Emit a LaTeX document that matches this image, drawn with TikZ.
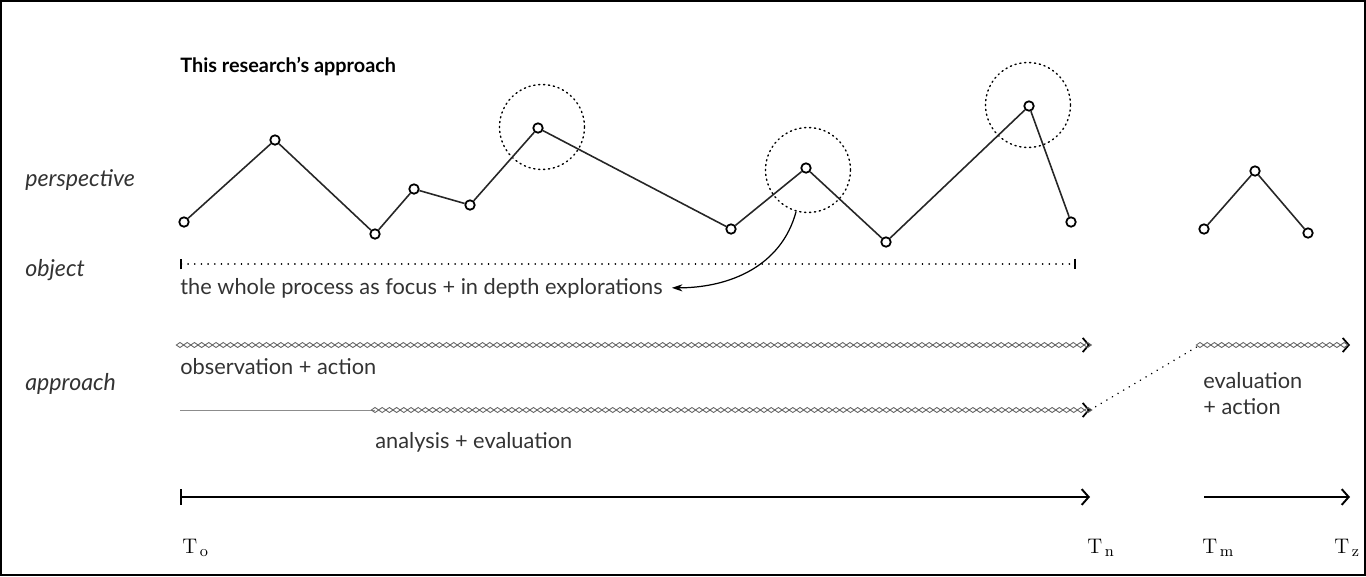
\documentclass[tikz,border=0pt]{standalone}
\usepackage[no-math]{fontspec}
\setmainfont{Lato}
\usetikzlibrary{arrows.meta,decorations.markings}

\begin{document}
\begin{tikzpicture}[x=0.02cm,y=-0.02cm]
    % Define styles
    \tikzstyle{vertex} = [circle, draw=black, fill=white, line width=1pt, inner sep=0pt, minimum size=0.19cm]
    \tikzstyle{focus} = [circle, draw=black, dash pattern=on 0.7pt off 2.1pt, line cap=round, line width=0.8pt, minimum size=1.7cm, inner sep=0pt]
    \tikzstyle{rowlabel} = [anchor=base west, inner sep=0pt, font=\itshape\fontsize{13.2}{15}\selectfont, text=black!80]
    \tikzstyle{caption} = [anchor=base west, inner sep=0pt, font=\fontsize{12.4}{14}\selectfont, text=black!80]
    \tikzstyle{timelabel} = [anchor=base west, inner sep=0pt, font=\fontsize{13}{15}\selectfont]
    \tikzstyle{edge} = [line width=0.9pt, black!85]
    \tikzstyle{arrow} = [line width=0.7pt, -{Stealth[length=6pt,width=4pt]}]
    \tikzstyle{timeline} = [line width=1.1pt, -{Straight Barb[length=4pt,width=9pt]}]
    \tikzstyle{chain} = [white, line width=0.2pt, -{Straight Barb[black, line width=1pt, length=3.5pt, width=8pt]},
        postaction={decorate, decoration={markings, mark=between positions 0 and 1 step 4.1pt with
        {\draw[black!60, line width=0.5pt] (-3.7,0) -- (0,2.5) -- (3.7,0) -- (0,-2.5) -- cycle;}}}]
    \tikzstyle{dots} = [line width=0.9pt, dash pattern=on 0.1pt off 3.6pt, line cap=round]

    % Frame
    \useasboundingbox (0,0) rectangle (1366,576);
    \draw[line width=1.3pt] (1,1) rectangle (1365,575);

    % Labels
    \node (title) [anchor=base west, inner sep=0pt, font=\bfseries\fontsize{11.3}{13}\selectfont] at (180,72) {This research’s approach};
    \node (lper) [rowlabel] at (25,186) {perspective};
    \node (lobj) [rowlabel] at (25,276) {object};
    \node (lapp) [rowlabel] at (25,390) {approach};

    % Perspective points
    \node (p1) [vertex] at (184,222) {};
    \node (p2) [vertex] at (275,140) {};
    \node (p3) [vertex] at (375,234) {};
    \node (p4) [vertex] at (414,189) {};
    \node (p5) [vertex] at (470,205) {};
    \node (p6) [vertex] at (538,128) {};
    \node (p7) [vertex] at (731,229) {};
    \node (p8) [vertex] at (806,168) {};
    \node (p9) [vertex] at (886,242) {};
    \node (p10) [vertex] at (1029,106) {};
    \node (p11) [vertex] at (1071,222) {};
    \node (q1) [vertex] at (1204,229) {};
    \node (q2) [vertex] at (1255,171) {};
    \node (q3) [vertex] at (1308,233) {};

    % Focus circles
    \node (c1) [focus] at (542,127) {};
    \node (c2) [focus] at (808,170) {};
    \node (c3) [focus] at (1028,105) {};

    % Draw edges
    \draw [edge] (p1) -- (p2) -- (p3) -- (p4) -- (p5) -- (p6) -- (p7) -- (p8) -- (p9) -- (p10) -- (p11);
    \draw [edge] (q1) -- (q2) -- (q3);

    % Object
    \coordinate (o1) at (180,264);
    \coordinate (o2) at (1076,264);
    \draw [line width=0.9pt, dash pattern=on 0.1pt off 3.7pt, line cap=round, {Bar[width=6pt,line width=1pt]}-{Bar[width=6pt,line width=1pt]}] (o1) -- (o2);
    \node (whole) [caption] at (180,294) {the whole process as focus + in depth explorations};
    \draw [arrow] (c2.254) to[out=255, in=0] ([xshift=5pt]whole.east);

    % Approach
    \coordinate (a1) at (180,345);
    \coordinate (a2) at (1090,345);
    \coordinate (b0) at (180,410);
    \coordinate (b1) at (375,410);
    \coordinate (b2) at (1090,410);
    \coordinate (e1) at (1200,345);
    \coordinate (e2) at (1350,345);
    \draw [chain] (a1) -- (a2);
    \draw [black!45, line width=0.5pt] (b0) -- (b1);
    \draw [chain] (b1) -- (b2);
    \draw [chain] (e1) -- (e2);
    \draw [dots] (b2) -- (e1);
    \node (obs) [caption] at (180,374) {observation + action};
    \node (ana) [caption] at (375,448) {analysis + evaluation};
    \node (eva) [caption] at (1203,388) {evaluation};
    \node (act) [caption] at (1203,414) {+ action};

    % Time
    \coordinate (t0) at (180,497);
    \coordinate (tn) at (1090,497);
    \coordinate (tm) at (1204,497);
    \coordinate (tz) at (1350,497);
    \draw [timeline, {Bar[width=9pt,line width=1.2pt]}-{Straight Barb[length=4pt,width=9pt]}] (t0) -- (tn);
    \draw [timeline] (tm) -- (tz);
    \node (lt0) [timelabel] at (182,553) {$\mathrm{T}_{\,\mathrm{o}}$};
    \node (ltn) [timelabel] at (1087,553) {$\mathrm{T}_{\,\mathrm{n}}$};
    \node (ltm) [timelabel] at (1202,553) {$\mathrm{T}_{\,\mathrm{m}}$};
    \node (ltz) [timelabel] at (1334,553) {$\mathrm{T}_{\,\mathrm{z}}$};
\end{tikzpicture}
\end{document}
